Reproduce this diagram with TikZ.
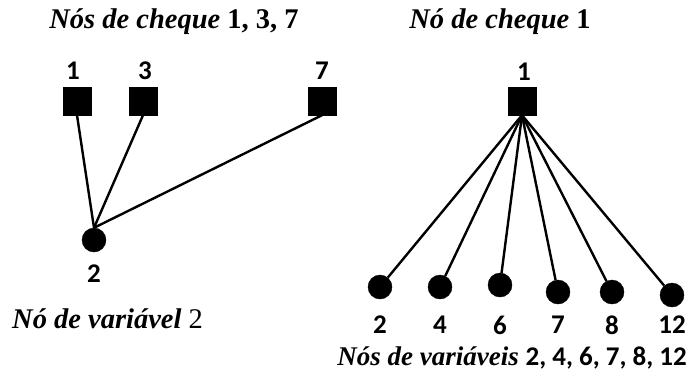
\documentclass[tikz,border=0pt]{standalone}
\usepackage{fontspec}
\setmainfont{Liberation Serif}
\newfontfamily\numfont{Carlito}
\begin{document}
\begin{tikzpicture}[x=1pt,y=-1pt,
  checknode/.style={draw=black,fill=black,minimum size=28pt,inner sep=0pt},
  varnode/.style={circle,draw=black,fill=black,minimum size=24pt,inner sep=0pt},
  idx/.style={font=\numfont\bfseries\fontsize{27}{30}\selectfont,inner sep=0pt},
  caption/.style={font=\fontsize{28.5}{32}\selectfont,inner sep=0pt},
  edge/.style={line width=2.4pt}]
\useasboundingbox (0,0) rectangle (690,388);

% left panel: one variable node and its check nodes
\node[caption] (tl) at (174,22) {\textbf{\textit{Nós de cheque}} \textbf{1, 3, 7}};
\node[checknode] (c1) at (77,101) {};
\node[checknode] (c3) at (143,101) {};
\node[checknode] (c7) at (322,101) {};
\node[idx] (lc1) at (73,71) {1};
\node[idx] (lc3) at (145,71) {3};
\node[idx] (lc7) at (322,71) {7};
\node[varnode] (v2) at (94,240) {};
\node[idx] (lv2) at (94,274) {2};
\node[caption,anchor=west] (bl) at (12,319) {\textbf{\textit{Nó de variável}} 2};
\draw[edge] (c1.south) -- (v2.north);
\draw[edge] (c3.south) -- (v2.north);
\draw[edge] (c7.south) -- (v2.north);

% right panel: one check node and its variable nodes
\node[caption] (tr) at (500,22) {\textbf{\textit{Nó de cheque}} \textbf{1}};
\node[checknode] (k1) at (522,101) {};
\node[idx] (lk1) at (524,72) {1};
\foreach \n/\x/\y in {2/380/287, 4/440/287, 6/500/285, 7/558/292, 8/612/292, 12/672/295}{
  \node[varnode] (w\n) at (\x,\y) {};
  \node[idx] (lw\n) at (\x,325) {\n};
  \draw[edge] (k1.south) -- (w\n);
}
\node[caption,anchor=east,font=\fontsize{27}{30}\selectfont] (br) at (687,358) {\textbf{\textit{Nós de variáveis}} {\numfont\bfseries 2, 4, 6, 7, 8, 12}};
\end{tikzpicture}
\end{document}
